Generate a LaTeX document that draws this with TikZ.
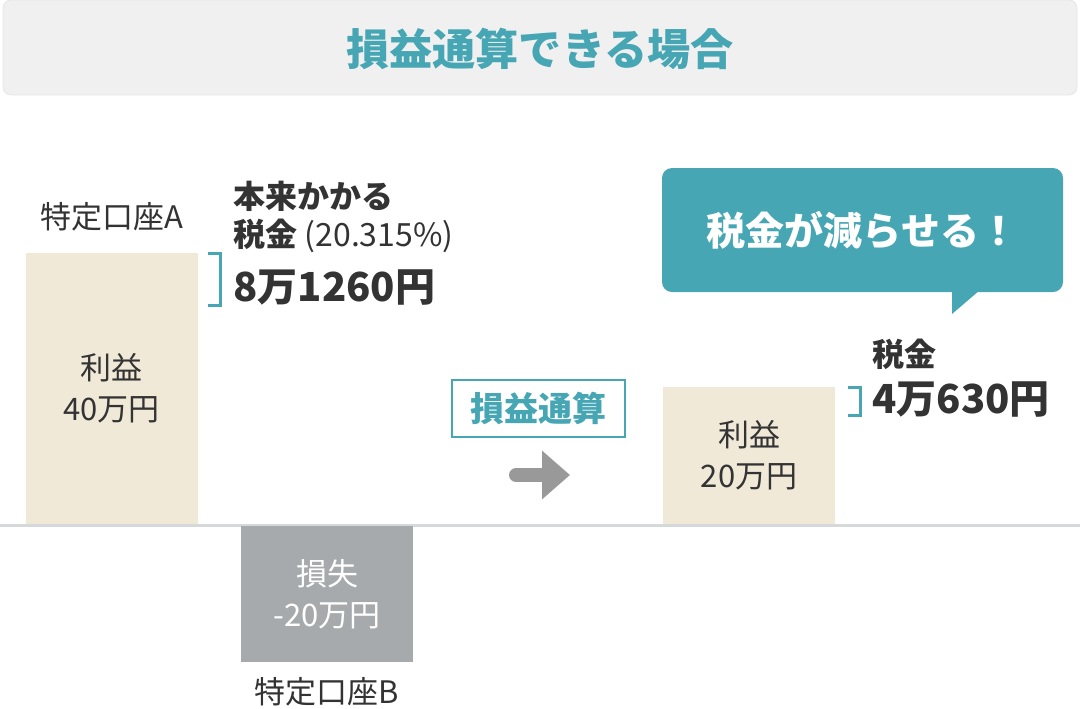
\documentclass[tikz,border=0pt]{standalone}
\usepackage{fontspec}
\setmainfont{Noto Sans CJK JP}
\usetikzlibrary{arrows.meta}
\definecolor{sonTeal}{HTML}{46A6B4}
\definecolor{riekiBeige}{HTML}{F0E9D8}
\definecolor{sonGray}{HTML}{A7AAAD}
\definecolor{titleBg}{HTML}{F0F0F0}
\definecolor{titleLn}{HTML}{E6E6E6}
\definecolor{baseLn}{HTML}{D5D9D9}
\definecolor{arrowGray}{HTML}{999999}
\definecolor{txtGray}{HTML}{333333}
\begin{document}
\begin{tikzpicture}[x=0.5pt,y=-0.5pt,
  kouza/.style={font=\fontsize{15.5}{18}\selectfont, text=txtGray},
  rieki/.style={fill=riekiBeige, minimum width=86pt, align=center, font=\fontsize{15.5}{20.5}\selectfont, text=txtGray},
  zeikin/.style={anchor=west, inner sep=0pt, font=\bfseries\fontsize{16}{18}\selectfont, text=txtGray},
  gaku/.style={anchor=west, inner sep=0pt, font=\bfseries\fontsize{20}{22}\selectfont, text=txtGray},
  kakko/.style={draw=sonTeal, line width=1.5pt}]
  \useasboundingbox (0,0) rectangle (1080,708);

  % タイトル
  \draw[fill=titleBg, draw=titleLn, rounded corners=4pt] (3,0) rectangle (1077,95);
  \node[font=\bfseries\fontsize{21.6}{24}\selectfont, text=sonTeal] (title) at (540,49) {損益通算できる場合};

  % 基準線
  \coordinate (lnL) at (0,525.5);
  \coordinate (lnR) at (1080,525.5);
  \draw[line width=1.5pt, draw=baseLn] (lnL) -- (lnR);

  % 特定口座A
  \node[rieki, minimum height=135.5pt] (rA) at (111.5,388.5) {利益\\40万円};
  \node[kouza] (kA) at (112,217) {特定口座A};
  \draw[kakko] (208,253.5) -- (220.5,253.5) -- (220.5,305.5) -- (208,305.5);
  \node[zeikin] (hA1) at (233,196) {本来かかる};
  \node[zeikin] (hA2) at (233,236) {税金 {\mdseries (20.315\%)}};
  \node[gaku] (hA3) at (233,288) {8万1260円};

  % 特定口座B
  \node[rieki, fill=sonGray, text=white, minimum height=68pt] (sB) at (327,594) {損失\\-20万円};
  \node[kouza] (kB) at (327,692) {特定口座B};

  % 損益通算
  \node[draw=sonTeal, line width=1pt, minimum width=86.5pt, minimum height=28.5pt,
    font=\bfseries\fontsize{17}{20}\selectfont, text=sonTeal] (tsu) at (538.5,408.5) {損益通算};
  \coordinate (arS) at (516,475);
  \coordinate (arE) at (570,475);
  \draw[line width=7pt, draw=arrowGray, line cap=round,
    -{Triangle[length=14pt,width=23.5pt]}] (arS) -- (arE);

  % 通算後
  \node[rieki, minimum height=68.5pt] (rC) at (749,455.5) {利益\\20万円};
  \draw[kakko] (847.5,387.5) -- (860,387.5) -- (860,415.5) -- (847.5,415.5);
  \node[zeikin] (hC1) at (872,354) {税金};
  \node[gaku] (hC2) at (872,400) {4万630円};

  % 吹き出し
  \node[fill=sonTeal, rounded corners=5pt, minimum width=200.5pt, minimum height=62pt,
    text=white, font=\bfseries\fontsize{19.5}{22}\selectfont] (fuki) at (862.5,230) {税金が減らせる！};
  \coordinate (fkA) at (952,290);
  \coordinate (fkB) at (952,314);
  \coordinate (fkC) at (980,290);
  \fill[sonTeal] (fkA) -- (fkB) -- (fkC) -- cycle;
\end{tikzpicture}
\end{document}
